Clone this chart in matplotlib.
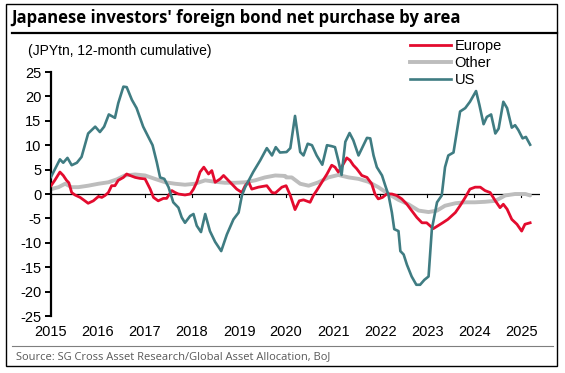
import matplotlib
matplotlib.use("Agg")
import matplotlib.pyplot as plt
from matplotlib.lines import Line2D
from matplotlib.patches import Rectangle

# ---- data (decimal year, JPY tn, 12-month cumulative) ----
us_t = [2015.00, 2015.19, 2015.26, 2015.35, 2015.44, 2015.55, 2015.65, 2015.79, 2015.94, 2016.04,
        2016.13, 2016.23, 2016.36, 2016.43, 2016.54, 2016.61, 2016.72, 2016.82, 2016.96, 2017.07,
        2017.16, 2017.25, 2017.32, 2017.41, 2017.50, 2017.60, 2017.71, 2017.78, 2017.85, 2017.96,
        2018.03, 2018.10, 2018.19, 2018.28, 2018.38, 2018.49, 2018.62, 2018.74, 2018.88, 2018.99,
        2019.06, 2019.13, 2019.30, 2019.45, 2019.59, 2019.70, 2019.78, 2019.87, 2020.01, 2020.09,
        2020.19, 2020.30, 2020.37, 2020.46, 2020.55, 2020.65, 2020.77, 2020.87, 2020.97, 2021.04,
        2021.11, 2021.18, 2021.26, 2021.35, 2021.43, 2021.54, 2021.61, 2021.72, 2021.79, 2021.86,
        2021.93, 2022.04, 2022.11, 2022.18, 2022.25, 2022.30, 2022.39, 2022.43, 2022.50, 2022.57,
        2022.67, 2022.77, 2022.85, 2022.94, 2023.03, 2023.10, 2023.21, 2023.31, 2023.38, 2023.45,
        2023.56, 2023.63, 2023.70, 2023.81, 2023.91, 2024.04, 2024.11, 2024.20, 2024.27, 2024.36,
        2024.45, 2024.52, 2024.62, 2024.70, 2024.80, 2024.87, 2024.94, 2025.03, 2025.10, 2025.19]
us_v = [3.5, 7.1, 6.4, 7.4, 5.9, 6.4, 7.6, 12.4, 13.8, 12.7,
        13.8, 16.3, 15.6, 18.6, 22.0, 21.9, 19.3, 17.6, 13.8, 11.7,
        10.0, 6.5, 3.4, 3.1, 1.4, -1.7, -2.8, -4.8, -5.9, -4.5,
        -4.1, -6.5, -7.8, -4.1, -7.6, -9.8, -11.7, -8.3, -5.2, -3.8,
        -0.3, 1.4, 4.5, 6.9, 9.4, 7.9, 9.6, 8.5, 8.6, 9.4,
        16.0, 8.6, 7.9, 10.3, 10.0, 7.9, 6.0, 10.0, 9.8, 9.6,
        6.9, 3.9, 10.7, 12.5, 11.0, 7.9, 9.3, 11.5, 11.4, 7.9,
        5.5, 3.8, 1.7, -0.3, -3.8, -7.2, -7.6, -11.7, -12.4, -14.5,
        -16.9, -18.6, -18.6, -17.6, -16.9, -7.2, -1.7, -0.3, 5.5, 7.9,
        8.5, 12.7, 16.9, 17.6, 18.9, 21.1, 18.3, 14.3, 15.8, 16.3,
        12.4, 13.4, 18.9, 17.6, 13.6, 14.1, 13.1, 11.4, 11.7, 10.1]

eu_t = [2015.00, 2015.08, 2015.19, 2015.26, 2015.33, 2015.38, 2015.44, 2015.51, 2015.62, 2015.72,
        2015.79, 2015.90, 2016.01, 2016.08, 2016.15, 2016.22, 2016.29, 2016.36, 2016.43, 2016.54,
        2016.61, 2016.68, 2016.79, 2016.89, 2017.00, 2017.11, 2017.18, 2017.28, 2017.39, 2017.46,
        2017.57, 2017.64, 2017.71, 2017.85, 2017.96, 2018.03, 2018.10, 2018.17, 2018.25, 2018.35,
        2018.42, 2018.49, 2018.60, 2018.67, 2018.74, 2018.84, 2018.95, 2019.06, 2019.13, 2019.20,
        2019.27, 2019.41, 2019.59, 2019.70, 2019.77, 2019.91, 2020.00, 2020.09, 2020.19, 2020.28,
        2020.37, 2020.51, 2020.58, 2020.65, 2020.76, 2020.87, 2020.97, 2021.04, 2021.11, 2021.18,
        2021.29, 2021.36, 2021.43, 2021.50, 2021.61, 2021.72, 2021.82, 2021.89, 2021.96, 2022.05,
        2022.14, 2022.25, 2022.35, 2022.46, 2022.57, 2022.67, 2022.78, 2022.89, 2022.99, 2023.13,
        2023.23, 2023.33, 2023.44, 2023.60, 2023.70, 2023.81, 2023.91, 2024.02, 2024.13, 2024.23,
        2024.34, 2024.45, 2024.55, 2024.62, 2024.70, 2024.80, 2024.91, 2025.01, 2025.08, 2025.19]
eu_v = [1.7, 2.8, 4.5, 3.8, 2.8, 2.3, 0.3, -0.2, -0.7, -1.4,
        -1.9, -1.4, -0.5, -0.7, -0.3, 0.3, 1.7, 1.7, 2.8, 3.4,
        4.1, 3.8, 3.4, 3.2, 3.1, 1.0, -0.7, -1.4, -0.9, -0.9,
        0.7, 0.3, 0.0, -0.2, 0.0, 1.0, 2.4, 4.5, 5.5, 4.1,
        4.8, 2.4, 3.1, 3.8, 3.1, 2.1, 1.0, 0.3, 1.7, 2.5,
        1.0, 1.4, 1.7, 0.3, 0.2, 1.4, 1.7, -0.3, -3.2, -1.4,
        -1.2, -1.7, -0.3, 0.7, 2.4, 4.1, 5.9, 5.5, 4.5, 5.5,
        7.4, 6.9, 5.9, 5.2, 3.8, 3.4, 2.1, 0.0, -1.0, -0.7,
        0.0, 0.0, -0.3, -1.0, -2.1, -3.4, -4.8, -5.9, -5.9, -7.1,
        -6.5, -5.9, -5.2, -3.8, -2.4, -0.7, 1.0, 1.4, 1.4, 0.7,
        0.3, -1.4, -2.8, -2.1, -3.1, -5.2, -6.2, -7.6, -6.2, -5.9]

ot_t = [2015.00, 2015.16, 2015.30, 2015.44, 2015.58, 2015.79, 2016.01, 2016.22, 2016.40, 2016.57,
        2016.79, 2017.00, 2017.21, 2017.43, 2017.64, 2017.85, 2018.06, 2018.28, 2018.49, 2018.70,
        2018.91, 2019.13, 2019.34, 2019.55, 2019.77, 2019.98, 2020.00, 2020.12, 2020.30, 2020.48,
        2020.69, 2020.90, 2021.11, 2021.33, 2021.54, 2021.75, 2021.96, 2022.18, 2022.39, 2022.60,
        2022.82, 2023.03, 2023.21, 2023.38, 2023.60, 2023.81, 2024.02, 2024.23, 2024.45, 2024.66,
        2024.87, 2025.09, 2025.19]
ot_v = [1.0, 1.4, 2.1, 1.4, 1.4, 1.7, 2.1, 2.4, 3.0, 3.8,
        4.0, 3.8, 3.1, 2.4, 2.1, 1.9, 2.1, 2.8, 2.5, 2.3,
        2.3, 2.4, 2.8, 3.4, 3.8, 3.7, 3.4, 3.4, 2.1, 1.7,
        2.4, 3.4, 3.9, 3.4, 3.1, 2.5, 1.4, 0.0, -1.2, -2.1,
        -3.4, -3.7, -3.4, -2.4, -1.9, -1.7, -1.7, -1.6, -1.4, -0.3,
        0.0, 0.0, -0.3]

years = list(range(2015, 2026))
year_labels = [str(y) for y in years]
yticks = list(range(-25, 30, 5))

title = "Japanese investors' foreign bond net purchase by area"
subtitle = "(JPYtn, 12-month cumulative)"
source = "Source: SG Cross Asset Research/Global Asset Allocation, BoJ"

W, H = 565, 373
fig = plt.figure(figsize=(W / 100, H / 100), dpi=100)

def fx(px):
    return px / W

def fy(py):
    return 1 - py / H

ax = fig.add_axes([fx(51), fy(316), fx(540) - fx(51), fy(72) - fy(316)])

c_eu = "#E30B2E"
c_ot = "#BDBDBD"
c_us = "#3F7C82"

ax.plot(ot_t, ot_v, color=c_ot, lw=2.8, solid_capstyle="round", zorder=2)
ax.plot(eu_t, eu_v, color=c_eu, lw=2.0, zorder=3)
ax.plot(us_t, us_v, color=c_us, lw=1.9, zorder=4)

ax.axhline(0, color="black", lw=0.9, zorder=1)
for y in years:
    ax.plot([y, y], [0, -0.7], color="black", lw=0.8, zorder=1)

ax.set_xlim(2015, 2025.4)
ax.set_ylim(-25, 25)
ax.set_yticks(yticks)
ax.set_yticklabels([str(v) for v in yticks], fontfamily="Liberation Sans", fontsize=10.5)
ax.set_xticks(years)
ax.set_xticklabels(year_labels, fontfamily="Liberation Sans", fontsize=10.5)
ax.tick_params(axis="x", length=0, pad=6.5)
ax.tick_params(axis="y", length=4, width=1.4, direction="out", pad=3)
for s in ["top", "right", "bottom"]:
    ax.spines[s].set_visible(False)
ax.spines["left"].set_linewidth(1.6)

handles = [Line2D([], [], color=c_eu, lw=2.0),
           Line2D([], [], color=c_ot, lw=2.8),
           Line2D([], [], color=c_us, lw=1.9)]
leg = fig.legend(handles, ["Europe", "Other", "US"], loc="upper left",
                 bbox_to_anchor=(fx(410), fy(39)), frameon=False,
                 prop={"family": "Liberation Sans", "size": 10.5},
                 handlelength=2.8, handletextpad=0.25, labelspacing=0.2,
                 borderaxespad=0, borderpad=0)

fig.text(fx(11), fy(18), title, fontfamily="Open Sans", fontweight="bold",
         fontsize=12, va="center", ha="left")
fig.add_artist(Line2D([fx(12), fx(557)], [fy(33), fy(33)], color="black", lw=1.6))
fig.text(fx(28), fy(51), subtitle, fontfamily="Liberation Sans", fontsize=10,
         va="center", ha="left")
fig.add_artist(Line2D([fx(12), fx(553)], [fy(346), fy(346)], color="#7F7F7F", lw=0.8))
fig.text(fx(16), fy(357), source, fontfamily="Open Sans", fontsize=8, color="#595959",
         va="center", ha="left")
fig.add_artist(Rectangle((fx(6), fy(366)), fx(557) - fx(6), fy(4) - fy(366),
                         fill=False, edgecolor="black", lw=1.0, transform=fig.transFigure))

fig.savefig("out.png", dpi=100)
